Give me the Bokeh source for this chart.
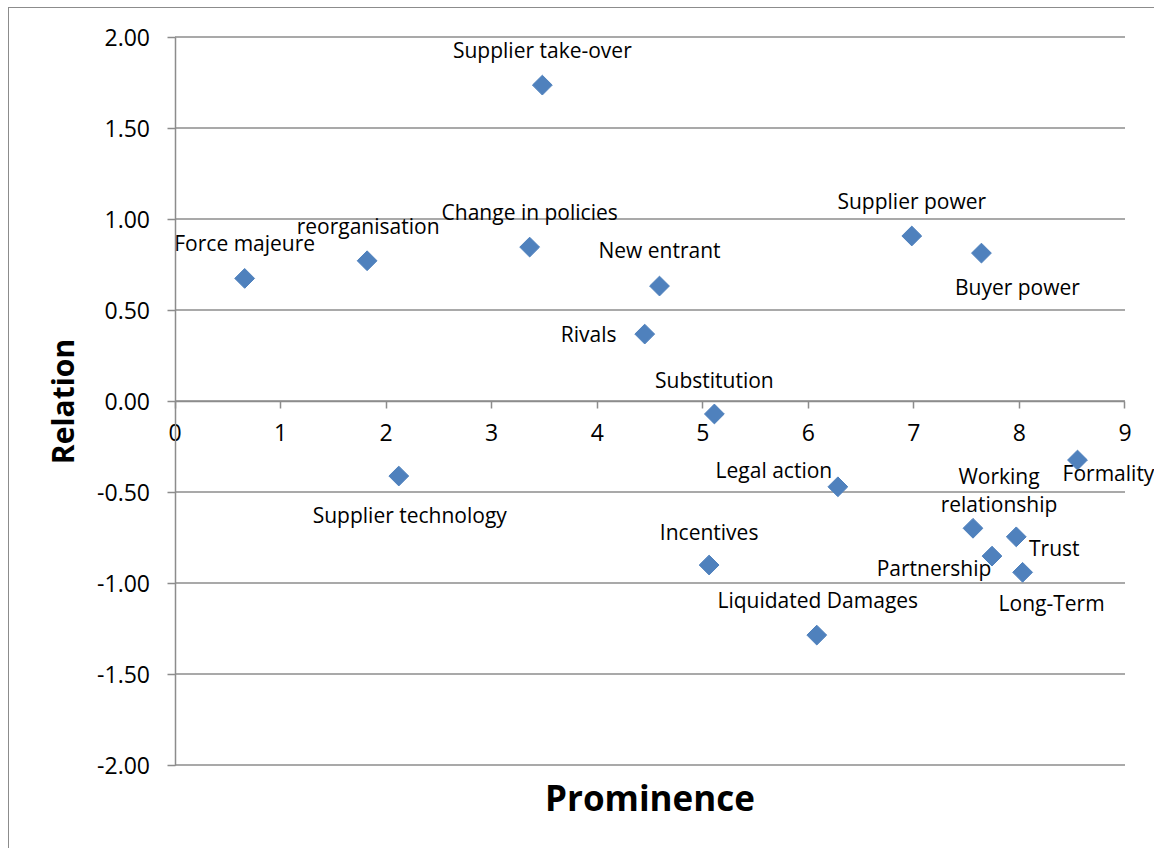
import math
from bokeh.plotting import figure
from bokeh.models import ColumnDataSource, FixedTicker, Label, LinearAxis, NumeralTickFormatter
from bokeh.core.properties import value
from bokeh.embed import file_html
from bokeh.resources import INLINE

# ---- data ----
names = ["Supplier take-over", "Force majeure", "reorganisation", "Change in policies",
         "New entrant", "Rivals", "Supplier power", "Buyer power", "Substitution",
         "Supplier technology", "Legal action", "Formality", "Working\nrelationship",
         "Trust", "Partnership", "Long-Term", "Incentives", "Liquidated Damages"]
prominence = [3.48, 0.66, 1.82, 3.36, 4.59, 4.45, 6.98, 7.64, 5.11,
              2.12, 6.28, 8.55, 7.56, 7.97, 7.74, 8.03, 5.06, 6.08]
relation = [1.736, 0.674, 0.771, 0.846, 0.632, 0.368, 0.907, 0.813, -0.071,
            -0.412, -0.471, -0.324, -0.699, -0.746, -0.852, -0.941, -0.901, -1.286]
x_ticks = [0, 1, 2, 3, 4, 5, 6, 7, 8, 9]
y_ticks = [-2.0, -1.5, -1.0, -0.5, 0.0, 0.5, 1.0, 1.5, 2.0]

# label placement (screen pixel offsets relative to each point; style, not data)
label_dx = [0, 0, 1, 0, 0, -56, 0, 36, 0, 11, -64, 31, 26, 38, -58, 29, 0, 1]
label_dy = [-35, -35, -35, -35, -36, 0, -35, 34, -34, 39, -17, 13, -38, 11, 12, 31, -33, -35]

FONT = "Open Sans"
GRID = "#8c8c8c"

# the frame covers the whole canvas so that no text is clipped; visible axes span 0..9 and -2..2
X_VIEW = (-1.568, 9.289)
Y_VIEW = (-2.464, 2.157)

src = ColumnDataSource(dict(x=prominence, y=relation, name=names, dx=label_dx, dy=label_dy))

p = figure(width=1146, height=841, x_range=X_VIEW, y_range=Y_VIEW,
           x_axis_location=None, y_axis_location=None,
           output_backend="svg", toolbar_location=None,
           min_border=0, margin=(7, 0, 0, 8))
p.styles = {"border-left": "1.5px solid #8c8c8c", "border-top": "1.5px solid #8c8c8c"}
p.outline_line_color = None
p.background_fill_color = "white"
p.border_fill_color = "white"
p.xgrid.visible = False
p.ygrid.visible = False

# horizontal gridlines, from the tick arrays
p.segment(x0=x_ticks[0], x1=x_ticks[-1], y0=y_ticks, y1=y_ticks,
          line_color=GRID, line_width=1.5)

# x axis crossing at y = 0
xa = LinearAxis(fixed_location=0, bounds=(x_ticks[0], x_ticks[-1]))
xa.ticker = FixedTicker(ticks=x_ticks)
xa.axis_line_color = GRID
xa.axis_line_width = 1.5
xa.major_tick_line_color = GRID
xa.major_tick_line_width = 1.5
xa.major_tick_in = 0
xa.major_tick_out = 7
xa.minor_tick_line_color = None
xa.major_label_text_font = FONT
xa.major_label_text_font_size = "23px"
xa.major_label_text_color = "black"
xa.major_label_standoff = 16
p.add_layout(xa, "below")

ya = LinearAxis(fixed_location=0, bounds=(y_ticks[0], y_ticks[-1]))
ya.ticker = FixedTicker(ticks=y_ticks)
ya.formatter = NumeralTickFormatter(format="0.00")
ya.axis_line_color = GRID
ya.axis_line_width = 1.5
ya.major_tick_line_color = GRID
ya.major_tick_line_width = 1.5
ya.major_tick_in = 0
ya.major_tick_out = 8
ya.minor_tick_line_color = None
ya.major_label_text_font = FONT
ya.major_label_text_font_size = "23px"
ya.major_label_text_color = "black"
ya.major_label_standoff = 17
ya.axis_label = "Relation"
ya.axis_label_text_font = FONT
ya.axis_label_text_font_style = "bold"
ya.axis_label_text_font_size = "30px"
ya.axis_label_text_color = "black"
ya.axis_label_standoff = 12
p.add_layout(ya, "left")

p.scatter("x", "y", source=src, marker="square", size=14, angle=math.pi / 4,
          fill_color="#4F81BD", line_color="#4F81BD", line_width=1)

p.text("x", "y", text="name", source=src, x_offset="dx", y_offset="dy",
       text_align="center", text_baseline="middle", text_font=value(FONT),
       text_font_size="21px", text_color="black", text_line_height=1.0)

p.add_layout(Label(x=(x_ticks[0] + x_ticks[-1]) / 2, y=y_ticks[0], y_offset=-32,
                   text="Prominence", text_align="center",
                   text_baseline="middle", text_font=FONT, text_font_style="bold",
                   text_font_size="35px", text_color="black"))

open("out.html", "w").write(file_html(p, INLINE))
